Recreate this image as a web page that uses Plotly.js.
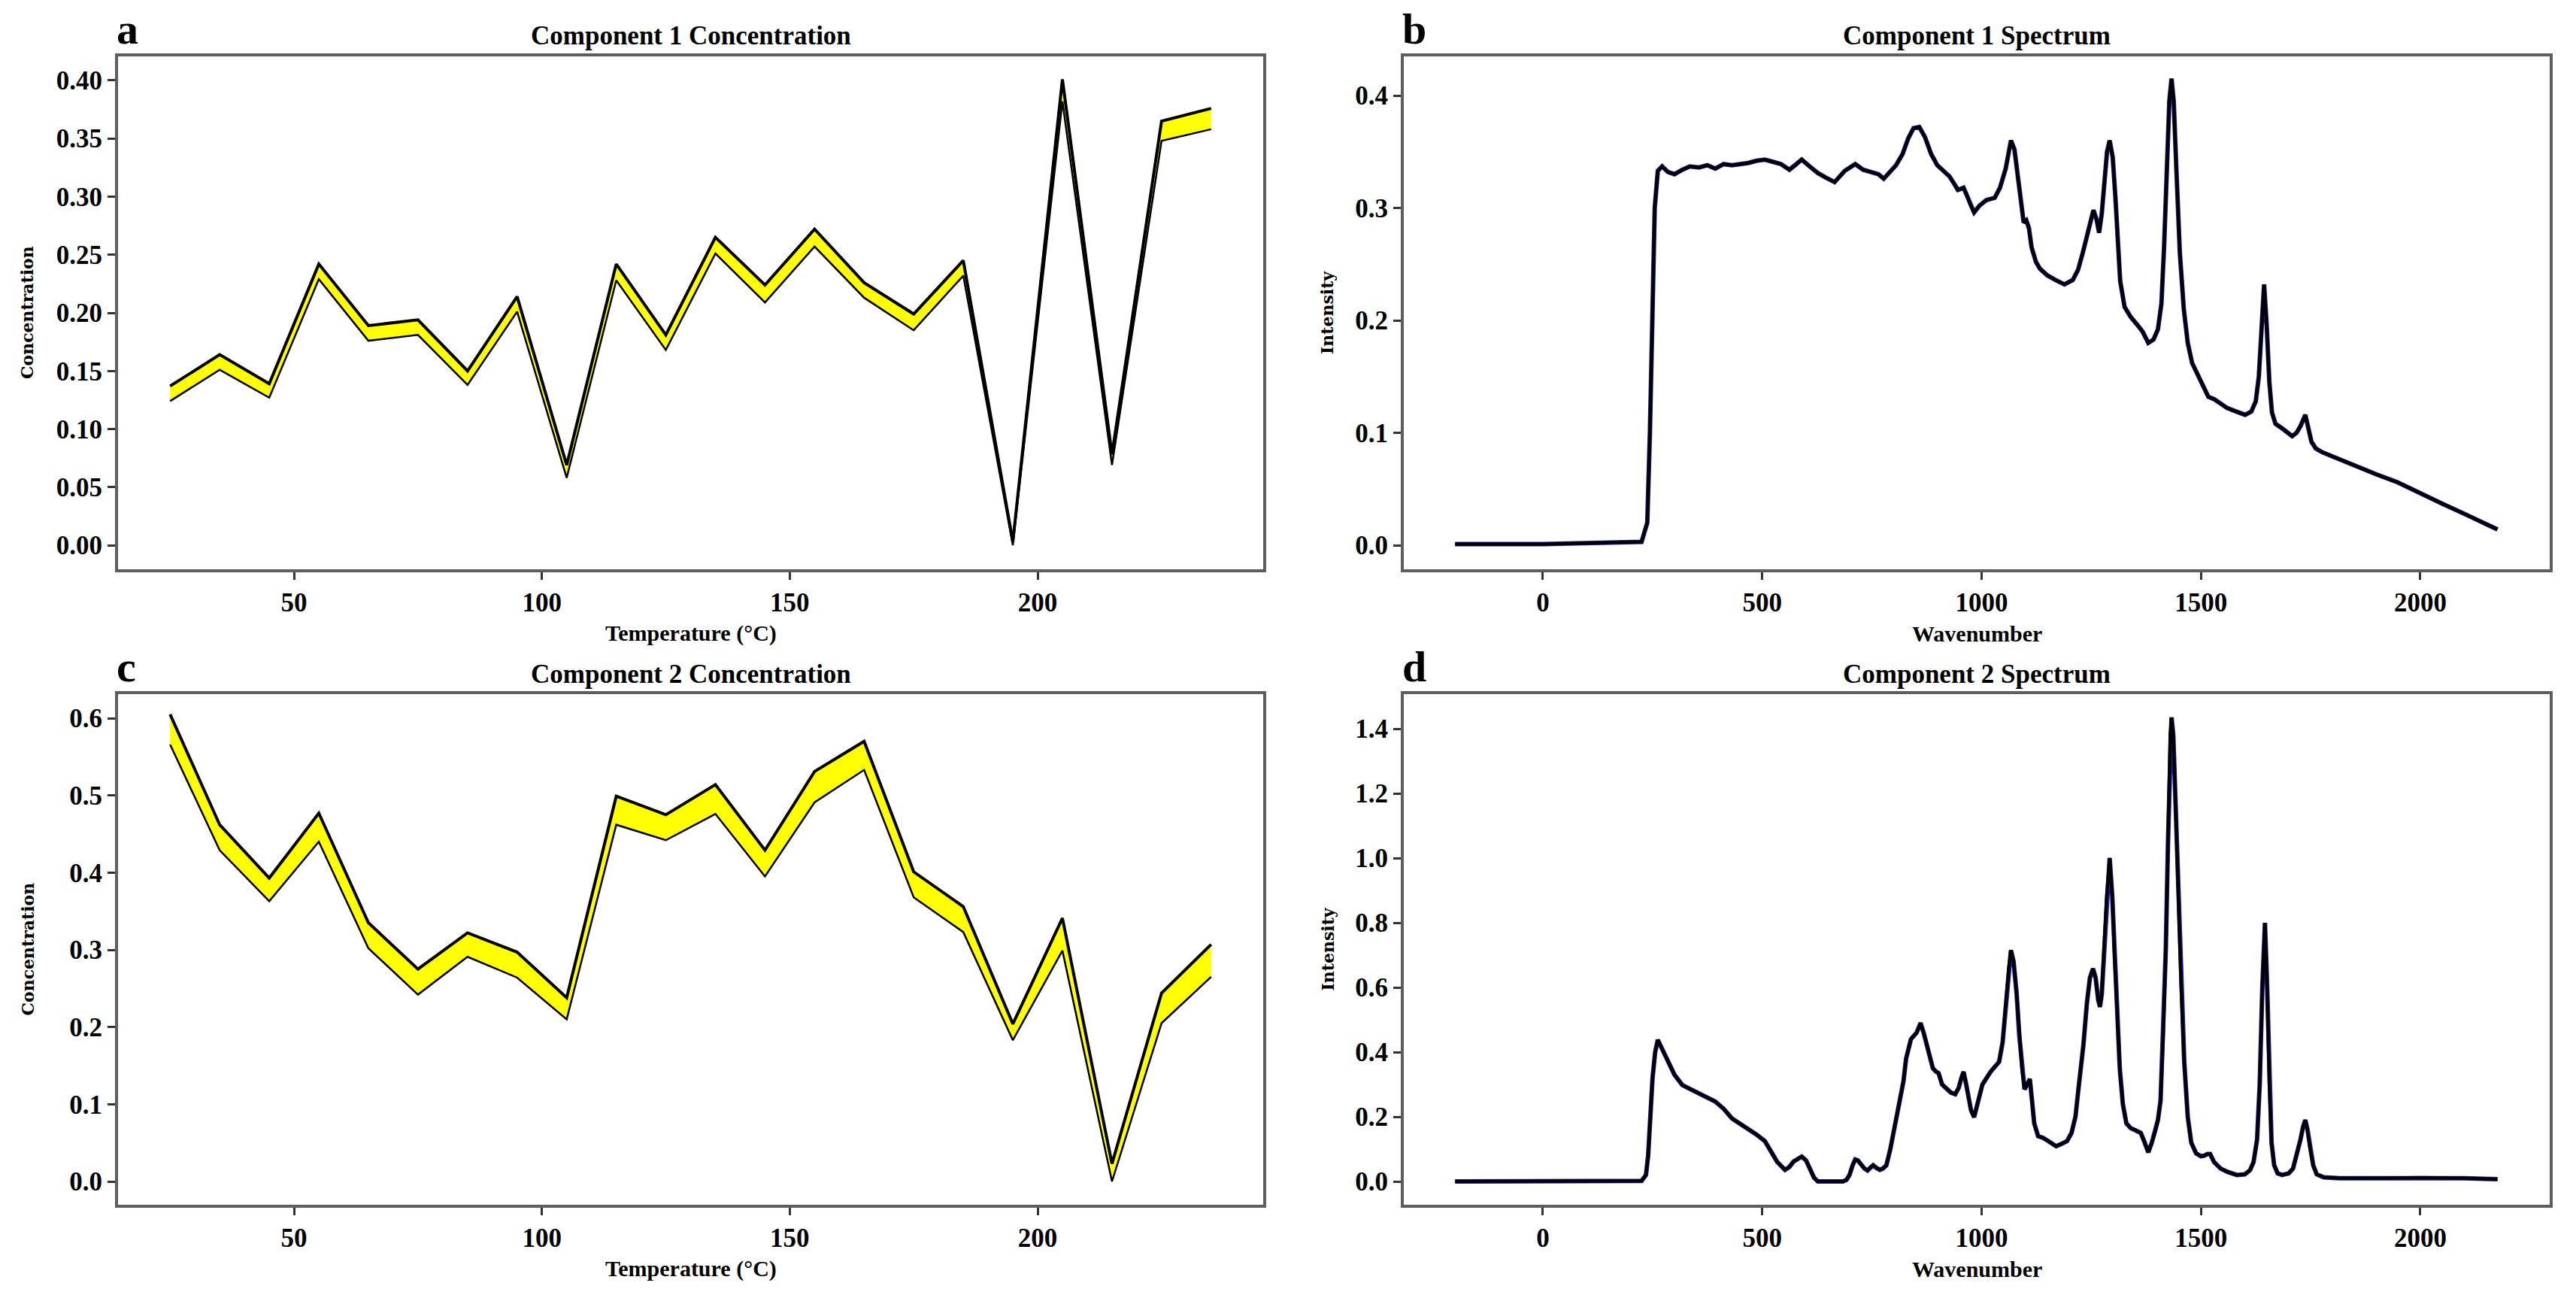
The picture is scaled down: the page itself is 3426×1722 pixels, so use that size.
<!DOCTYPE html>
<html>
<head>
<meta charset="utf-8">
<script src="https://cdn.plot.ly/plotly-3.0.1.min.js"></script>
<style>html,body{margin:0;padding:0;background:#fff;}#chart{width:3426px;height:1722px;}</style>
</head>
<body>
<div id="chart"></div>
<script>
// ---------- data ----------
const temperature = [25,35,45,55,65,75,85,95,105,115,125,135,145,155,165,175,185,195,205,215,225,235];

const comp1Upper = [0.137,0.164,0.139,0.242,0.189,0.194,0.150,0.214,0.069,0.242,0.181,0.265,0.224,0.272,0.226,0.199,0.245,0.003,0.401,0.078,0.365,0.376];
const comp1Lower = [0.124,0.151,0.127,0.229,0.176,0.181,0.138,0.201,0.058,0.228,0.168,0.251,0.209,0.257,0.213,0.185,0.232,0.000,0.382,0.069,0.348,0.358];

const comp2Upper = [0.605,0.462,0.393,0.477,0.335,0.275,0.322,0.297,0.238,0.499,0.475,0.514,0.429,0.531,0.570,0.401,0.356,0.204,0.341,0.023,0.244,0.307];
const comp2Lower = [0.566,0.429,0.363,0.440,0.302,0.242,0.291,0.264,0.210,0.462,0.442,0.476,0.395,0.491,0.533,0.368,0.323,0.183,0.299,0.000,0.205,0.265];

const spec1Wavenumber = [-200,0,225,238,244,249,255,262,272,285,300,318,335,356,375,393,412,431,450,468,487,506,525,543,562,576,590,608,627,645,665,688,712,730,749,765,777,790,805,820,833,845,858,871,885,899,913,927,940,946,959,966,974,983,995,1011,1030,1042,1055,1067,1075,1082,1090,1096,1102,1108,1114,1124,1133,1150,1168,1189,1208,1220,1232,1245,1255,1262,1268,1274,1280,1286,1292,1299,1305,1310,1316,1326,1340,1355,1367,1380,1392,1402,1410,1416,1422,1428,1433,1438,1444,1452,1461,1470,1480,1500,1517,1530,1545,1560,1580,1601,1615,1625,1632,1638,1644,1650,1656,1662,1670,1685,1698,1708,1718,1727,1738,1745,1752,1762,1775,1800,1854,1900,1948,2000,2050,2100,2140,2176];
const spec1Intensity = [0.001,0.001,0.003,0.02,0.1,0.2,0.3,0.333,0.337,0.332,0.33,0.334,0.337,0.336,0.338,0.335,0.339,0.338,0.339,0.340,0.342,0.343,0.341,0.339,0.334,0.338,0.343,0.337,0.331,0.327,0.323,0.333,0.339,0.334,0.332,0.330,0.326,0.332,0.338,0.348,0.362,0.371,0.372,0.363,0.348,0.338,0.333,0.328,0.320,0.316,0.318,0.312,0.303,0.296,0.302,0.307,0.309,0.318,0.335,0.360,0.352,0.330,0.300,0.287,0.289,0.282,0.265,0.252,0.246,0.240,0.236,0.232,0.236,0.245,0.262,0.283,0.298,0.29,0.278,0.295,0.325,0.350,0.360,0.345,0.310,0.270,0.235,0.212,0.203,0.196,0.190,0.180,0.183,0.192,0.215,0.265,0.335,0.395,0.415,0.395,0.335,0.260,0.210,0.180,0.162,0.145,0.132,0.130,0.126,0.122,0.119,0.116,0.119,0.128,0.150,0.190,0.232,0.195,0.145,0.118,0.108,0.104,0.100,0.097,0.100,0.106,0.116,0.105,0.092,0.086,0.083,0.079,0.070,0.063,0.056,0.046,0.037,0.028,0.021,0.014];

const spec2Wavenumber = [-200,0,225,235,240,245,250,256,262,270,281,290,300,318,337,356,375,393,412,431,450,468,487,506,520,534,552,562,571,590,600,609,618,627,684,692,699,706,712,718,725,733,740,747,753,760,768,775,783,792,802,815,822,828,839,852,861,868,876,889,896,902,910,918,930,940,948,954,959,965,970,976,983,990,1002,1021,1040,1048,1055,1062,1067,1073,1080,1086,1092,1098,1104,1110,1115,1120,1129,1140,1152,1170,1185,1195,1205,1214,1222,1232,1240,1247,1254,1260,1266,1270,1274,1279,1285,1292,1298,1303,1309,1315,1322,1330,1340,1350,1363,1372,1380,1388,1395,1402,1408,1414,1420,1425,1430,1433,1437,1442,1448,1455,1462,1470,1478,1489,1500,1508,1515,1521,1530,1545,1560,1582,1600,1612,1620,1628,1634,1640,1646,1651,1656,1661,1667,1675,1685,1700,1710,1718,1727,1733,1738,1743,1749,1756,1764,1780,1817,1900,2004,2100,2176];
const spec2Intensity = [0.0,0.0,0.002,0.02,0.08,0.2,0.32,0.40,0.438,0.415,0.385,0.36,0.33,0.298,0.285,0.272,0.26,0.247,0.225,0.195,0.178,0.163,0.145,0.125,0.095,0.061,0.036,0.045,0.061,0.077,0.065,0.036,0.012,0.0,0.0,0.005,0.02,0.05,0.068,0.065,0.052,0.04,0.034,0.045,0.05,0.042,0.036,0.04,0.05,0.1,0.17,0.25,0.31,0.38,0.44,0.46,0.49,0.46,0.42,0.35,0.34,0.335,0.30,0.29,0.275,0.27,0.29,0.32,0.339,0.30,0.26,0.22,0.199,0.24,0.30,0.34,0.37,0.43,0.55,0.66,0.715,0.68,0.58,0.45,0.35,0.285,0.30,0.317,0.25,0.18,0.14,0.135,0.125,0.109,0.118,0.125,0.15,0.2,0.3,0.42,0.55,0.63,0.658,0.63,0.56,0.54,0.58,0.70,0.88,1.0,0.88,0.70,0.50,0.35,0.24,0.18,0.165,0.16,0.15,0.12,0.09,0.12,0.15,0.19,0.25,0.45,0.72,1.05,1.38,1.435,1.38,1.18,0.90,0.60,0.37,0.20,0.12,0.087,0.078,0.08,0.085,0.085,0.06,0.04,0.03,0.02,0.022,0.035,0.06,0.13,0.3,0.6,0.8,0.6,0.3,0.12,0.05,0.025,0.02,0.025,0.04,0.08,0.13,0.17,0.19,0.16,0.1,0.05,0.022,0.013,0.01,0.01,0.012,0.01,0.007];

const panelLabels = ['a','b','c','d'];
const panelTitles = ['Component 1 Concentration','Component 1 Spectrum','Component 2 Concentration','Component 2 Spectrum'];
const xTitles = ['Temperature (°C)','Wavenumber','Temperature (°C)','Wavenumber'];
const yTitles = ['Concentration','Intensity','Concentration','Intensity'];

// ---------- geometry ----------
const W = 3426, H = 1722;
const px = v => v / W;
const py = v => 1 - v / H;
const boxes = [
  {l:157, r:1680, t:75, b:757},
  {l:1867, r:3391, t:75, b:757},
  {l:157, r:1680, t:923, b:1602},
  {l:1867, r:3391, t:923, b:1602}
];

const SERIF = 'Liberation Serif, Times New Roman, serif';
const BLUE = '#2020b0';

const traces = [];
function band(x, lo, hi, xa, ya){
  traces.push({x:x, y:lo, xaxis:xa, yaxis:ya, mode:'lines', line:{color:'#000', width:2.5}, hoverinfo:'skip', showlegend:false});
  traces.push({x:x, y:hi, xaxis:xa, yaxis:ya, mode:'lines', line:{color:'#000', width:4}, fill:'tonexty', fillcolor:'#ffff00', hoverinfo:'skip', showlegend:false});
}
function spectrum(x, y, xa, ya){
  traces.push({x:x, y:y, xaxis:xa, yaxis:ya, mode:'lines', line:{color:BLUE, width:6}, hoverinfo:'skip', showlegend:false});
  traces.push({x:x, y:y, xaxis:xa, yaxis:ya, mode:'lines', line:{color:'#000', width:4.5}, hoverinfo:'skip', showlegend:false});
}
band(temperature, comp1Lower, comp1Upper, 'x', 'y');
spectrum(spec1Wavenumber, spec1Intensity, 'x2', 'y2');
band(temperature, comp2Lower, comp2Upper, 'x3', 'y3');
spectrum(spec2Wavenumber, spec2Intensity, 'x4', 'y4');

function axisBase(){
  return {showline:true, mirror:true, linecolor:'#5e5e5e', linewidth:4, ticks:'outside', ticklen:10, tickwidth:3, tickcolor:'#333',
          showgrid:false, zeroline:false, tickfont:{family:SERIF, size:35, color:'#000', weight:'bold'}};
}
const layout = {
  width:W, height:H, margin:{l:0,r:0,t:0,b:0}, paper_bgcolor:'#fff', plot_bgcolor:'#fff', showlegend:false,
  font:{family:SERIF, color:'#000'},
  annotations:[]
};
const xr = [[14.5,245.5],[-317,2295],[14.5,245.5],[-317,2295]];
const yr = [[-0.0207,0.4207],[-0.0214,0.4348],[-0.0302,0.6312],[-0.072,1.507]];
const xtv = [[50,100,150,200],[0,500,1000,1500,2000],[50,100,150,200],[0,500,1000,1500,2000]];
const ytv = [[0,0.05,0.1,0.15,0.2,0.25,0.3,0.35,0.4],[0,0.1,0.2,0.3,0.4],[0,0.1,0.2,0.3,0.4,0.5,0.6],[0,0.2,0.4,0.6,0.8,1.0,1.2,1.4]];
const yfmt = ['.2f','.1f','.1f','.1f'];

for (let i=0;i<4;i++){
  const b = boxes[i];
  const s = i===0 ? '' : String(i+1);
  const xa = axisBase(), ya = axisBase();
  xa.domain = [px(b.l), px(b.r)]; xa.range = xr[i]; xa.tickvals = xtv[i]; xa.anchor = 'y'+s;
  ya.domain = [py(b.b), py(b.t)]; ya.range = yr[i]; ya.tickvals = ytv[i]; ya.tickformat = yfmt[i]; ya.anchor = 'x'+s;
  layout['xaxis'+s] = xa; layout['yaxis'+s] = ya;

  const cx = (b.l+b.r)/2, cy = (b.t+b.b)/2;
  layout.annotations.push({xref:'paper', yref:'paper', x:px(cx), y:py(b.t-27), xanchor:'center', yanchor:'middle', showarrow:false,
    text:panelTitles[i], font:{family:SERIF, size:35, color:'#000', weight:'bold'}});
  layout.annotations.push({xref:'paper', yref:'paper', x:px(b.l-4), y:py(b.t-2), xanchor:'left', yanchor:'bottom', showarrow:false,
    text:panelLabels[i], font:{family:SERIF, size:58, color:'#000', weight:'bold'}});
  layout.annotations.push({xref:'paper', yref:'paper', x:px(cx), y:py(b.b+85), xanchor:'center', yanchor:'middle', showarrow:false,
    text:xTitles[i], font:{family:SERIF, size:30, color:'#000', weight:'bold'}});
  const ytx = (i%2===0) ? 36 : 1765;
  layout.annotations.push({xref:'paper', yref:'paper', x:px(ytx), y:py(cy), xanchor:'center', yanchor:'middle', showarrow:false, textangle:-90,
    text:yTitles[i], font:{family:'DejaVu Serif, serif', size:22, color:'#000', weight:'bold'}});
}

Plotly.newPlot('chart', traces, layout, {staticPlot:true, displayModeBar:false});
</script>
</body>
</html>
